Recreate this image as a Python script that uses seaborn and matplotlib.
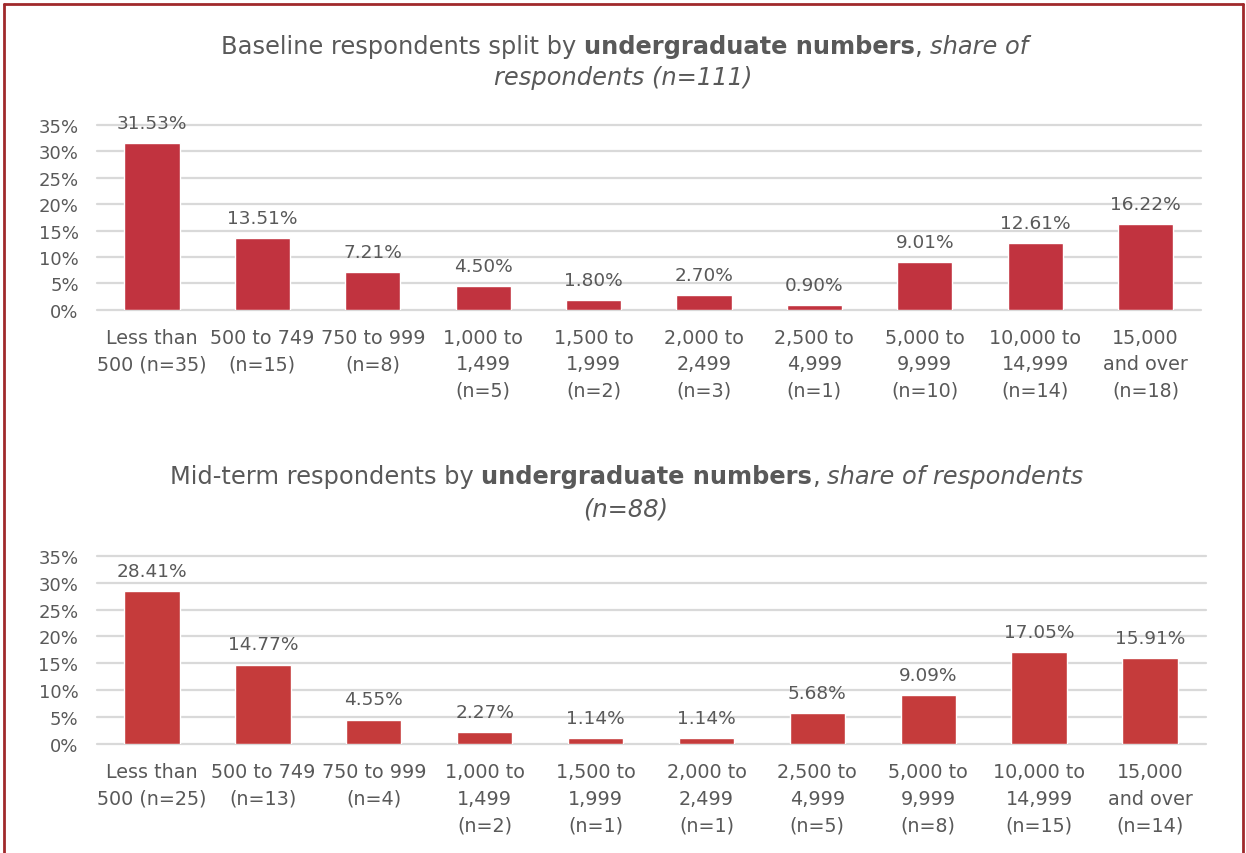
import matplotlib
matplotlib.use("Agg")
import matplotlib.pyplot as plt
import seaborn as sns
import pandas as pd
from matplotlib.lines import Line2D

# ---------------- data ----------------
base_cats = ["Less than\n500 (n=35)", "500 to 749\n(n=15)", "750 to 999\n(n=8)",
             "1,000 to\n1,499\n(n=5)", "1,500 to\n1,999\n(n=2)", "2,000 to\n2,499\n(n=3)",
             "2,500 to\n4,999\n(n=1)", "5,000 to\n9,999\n(n=10)", "10,000 to\n14,999\n(n=14)",
             "15,000\nand over\n(n=18)"]
base_vals = [31.53, 13.51, 7.21, 4.50, 1.80, 2.70, 0.90, 9.01, 12.61, 16.22]

mid_cats = ["Less than\n500 (n=25)", "500 to 749\n(n=13)", "750 to 999\n(n=4)",
            "1,000 to\n1,499\n(n=2)", "1,500 to\n1,999\n(n=1)", "2,000 to\n2,499\n(n=1)",
            "2,500 to\n4,999\n(n=5)", "5,000 to\n9,999\n(n=8)", "10,000 to\n14,999\n(n=15)",
            "15,000\nand over\n(n=14)"]
mid_vals = [28.41, 14.77, 4.55, 2.27, 1.14, 1.14, 5.68, 9.09, 17.05, 15.91]

y_ticks = [0, 5, 10, 15, 20, 25, 30, 35]
y_ticklabels = ["0%", "5%", "10%", "15%", "20%", "25%", "30%", "35%"]

base_title1 = [("Baseline respondents split by", "normal", "normal", True),
               ("undergraduate numbers", "bold", "normal", False),
               (",", "normal", "normal", True),
               ("share of", "normal", "italic", False)]
base_title2 = [("respondents (n=111)", "normal", "italic", False)]
mid_title1 = [("Mid-term respondents by", "normal", "normal", True),
              ("undergraduate numbers", "bold", "normal", False),
              (",", "normal", "normal", True),
              ("share of respondents", "normal", "italic", False)]
mid_title2 = [("(n=88)", "normal", "italic", False)]

# ---------------- style ----------------
sns.set_theme(style="white")
plt.rcParams["font.family"] = ["DejaVu Sans"]
TXT = "#595959"
GRID = "#D9D9D9"

W, H = 1246, 854
fig = plt.figure(figsize=(W / 100, H / 100), dpi=100)
fig.patch.set_facecolor("white")


def make_axes(px_left, px_right, px_top, px_bottom):
    return fig.add_axes([px_left / W, 1 - px_bottom / H,
                         (px_right - px_left) / W, (px_bottom - px_top) / H])


def draw_chart(ax, cats, vals, color):
    df = pd.DataFrame({"cat": cats, "val": vals})
    sns.barplot(data=df, x="cat", y="val", color=color, width=0.5,
                saturation=1, ax=ax, order=cats)
    ax.set_ylim(0, 35)
    ax.set_xlim(-0.5, len(cats) - 0.5)
    ax.set_yticks(y_ticks)
    ax.set_yticklabels(y_ticklabels)
    ax.yaxis.grid(True, color=GRID, linewidth=1.6)
    for gl in ax.get_ygridlines():
        gl.set_clip_on(False)
    ax.set_axisbelow(True)
    for s in ax.spines.values():
        s.set_visible(False)
    ax.set_xlabel("")
    ax.set_ylabel("")
    ax.tick_params(axis="y", length=0, pad=13, labelsize=13, labelcolor=TXT)
    ax.tick_params(axis="x", length=0, pad=13, labelsize=13.8, labelcolor=TXT)
    for lab in ax.get_xticklabels():
        lab.set_linespacing(1.5)
    ax.set_facecolor("none")
    for cont in ax.containers:
        ax.bar_label(cont, labels=[f"{v:.2f}%" for v in vals], padding=8,
                     fontsize=13.3, color=TXT)


ax1 = make_axes(96.8, 1200.7, 126, 310.7)
draw_chart(ax1, base_cats, base_vals, "#C1333F")
ax2 = make_axes(96.5, 1205.5, 556.7, 745)
draw_chart(ax2, mid_cats, mid_vals, "#C53B3B")

# ---------------- rich titles ----------------
TSIZE = 17.4
fig.canvas.draw()
renderer = fig.canvas.get_renderer()


def text_w(s, weight, style):
    t = fig.text(0, 0, s, fontsize=TSIZE, fontweight=weight, fontstyle=style)
    w = t.get_window_extent(renderer).width
    t.remove()
    return w


space_w = text_w("x x", "normal", "normal") - text_w("xx", "normal", "normal")


def rich_line(parts, cx, cy):
    texts, widths = [], []
    for s, weight, style, sp in parts:
        t = fig.text(0, 1 - cy / H, s, fontsize=TSIZE, fontweight=weight,
                     fontstyle=style, color=TXT, ha="left", va="center")
        texts.append(t)
        widths.append(t.get_window_extent(renderer).width + (space_w if sp else 0))
    x = cx - sum(widths) / 2
    for t, w in zip(texts, widths):
        t.set_x(x / W)
        x += w


rich_line(base_title1, 624.5, 47)
rich_line(base_title2, 623.5, 78)
rich_line(mid_title1, 626.5, 477)
rich_line(mid_title2, 626.0, 509)

# ---------------- frame ----------------
BORDER = "#A0292B"
fig.add_artist(Line2D([4 / W, 1243 / W], [1 - 5 / H, 1 - 5 / H], color=BORDER,
                      linewidth=2, transform=fig.transFigure))
fig.add_artist(Line2D([4 / W, 4 / W], [1 - 5 / H, 0], color=BORDER,
                      linewidth=2, transform=fig.transFigure))
fig.add_artist(Line2D([1243 / W, 1243 / W], [1 - 5 / H, 0], color=BORDER,
                      linewidth=2, transform=fig.transFigure))

fig.savefig("out.png", dpi=100, facecolor="white")
